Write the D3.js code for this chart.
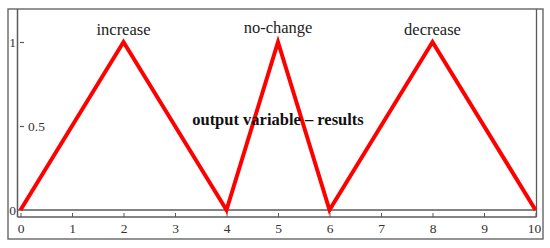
<!DOCTYPE html>
<html>
<head>
<meta charset="utf-8">
<script src="https://cdn.jsdelivr.net/npm/d3@7"></script>
<style>
  body { margin: 0; background: #fff; }
  svg { display: block; }
  svg text { font-family: "Liberation Serif", "Times New Roman", serif; }
</style>
</head>
<body>
<svg id="chart"></svg>
<script>
// membership function points (x, degree)
const xs = [0, 2, 4, 5, 6, 8, 10];
const ys = [0, 1, 0, 1, 0, 1, 0];
// term labels sit on the peaks
const terms = ['increase', 'no-change', 'decrease'];
const termPeaks = [2, 5, 8];
const xTicks = [0, 1, 2, 3, 4, 5, 6, 7, 8, 9, 10];
const yTicks = [0, 0.5, 1];
const title = 'output variable \u2013 results';

const width = 550, height = 248;
const svg = d3.select('#chart').attr('width', width).attr('height', height);

const x = d3.scaleLinear().domain([0, 10]).range([20.5, 535.5]);
const y = d3.scaleLinear().domain([0, 1]).range([210, 42]);

const frame = '#5a5a5a';
const serif = 'Liberation Serif, Times New Roman, serif';

// outer box
svg.append('rect')
  .attr('x', 8).attr('y', 9).attr('width', 535).attr('height', 230)
  .attr('fill', 'none').attr('stroke', frame).attr('stroke-width', 1.3);

// inner left/right frame lines
svg.append('line').attr('x1', 17.5).attr('x2', 17.5).attr('y1', 9).attr('y2', 217)
  .attr('stroke', frame).attr('stroke-width', 1.5);
svg.append('line').attr('x1', 536.5).attr('x2', 536.5).attr('y1', 9).attr('y2', 217)
  .attr('stroke', frame).attr('stroke-width', 1.3);

// zero line
svg.append('line').attr('x1', 17.5).attr('x2', 536.5).attr('y1', y(0)).attr('y2', y(0))
  .attr('stroke', frame).attr('stroke-width', 1.3);

// x axis, ticks pointing up
const xAxis = svg.append('g')
  .attr('transform', 'translate(0,217)')
  .call(d3.axisBottom(x).tickValues(xTicks).tickSizeInner(-4).tickSizeOuter(0).tickPadding(6).tickFormat(d3.format('d')))
  .attr('font-family', serif).attr('font-size', 13.5);
xAxis.select('.domain').attr('d', 'M17.5,0H536.5').attr('stroke', frame).attr('stroke-width', 1.3);
xAxis.selectAll('.tick line').attr('stroke', frame);
xAxis.selectAll('.tick text').attr('fill', '#333');
xAxis.selectAll('.tick text').filter(d => d === 10).attr('dx', '-1.5');

// y axis, ticks inside
const yAxis = svg.append('g')
  .attr('transform', 'translate(20,0)')
  .call(d3.axisRight(y).tickValues(yTicks).tickSizeInner(4).tickSizeOuter(0).tickPadding(4)
    .tickFormat(d => d === 0.5 ? '0.5' : d3.format('d')(d)))
  .attr('font-family', serif).attr('font-size', 13.5);
yAxis.select('.domain').remove();
yAxis.selectAll('.tick line').attr('stroke', frame).attr('stroke-width', 1.2)
  .attr('opacity', d => d === 0 ? 0 : 1);
yAxis.selectAll('.tick text').attr('fill', '#333');
// 0 and 1 labels sit left of the frame
yAxis.selectAll('.tick text').filter(d => d !== 0.5)
  .attr('text-anchor', 'end').attr('x', -4);

// membership line
const line = d3.line().x((d, i) => x(xs[i])).y((d, i) => y(ys[i]));
svg.append('path')
  .datum(xs)
  .attr('d', line)
  .attr('fill', 'none')
  .attr('stroke', '#ff0000')
  .attr('stroke-width', 4)
  .attr('stroke-linejoin', 'miter');

// term labels
svg.selectAll('.term')
  .data(terms)
  .enter()
  .append('text')
  .attr('class', 'term')
  .attr('x', (d, i) => x(termPeaks[i]))
  .attr('y', (d, i) => y(1) - (d === 'no-change' ? 9 : 7))
  .attr('text-anchor', 'middle')
  .attr('fill', '#222')
  .attr('font-family', serif)
  .attr('font-size', 16.5)
  .text(d => d);

// variable name
svg.append('text')
  .attr('x', x(5))
  .attr('y', y(0.5) - 1)
  .attr('text-anchor', 'middle')
  .attr('fill', '#111')
  .attr('font-family', serif)
  .attr('font-size', 16.5)
  .attr('font-weight', 'bold')
  .text(title);
</script>
</body>
</html>
